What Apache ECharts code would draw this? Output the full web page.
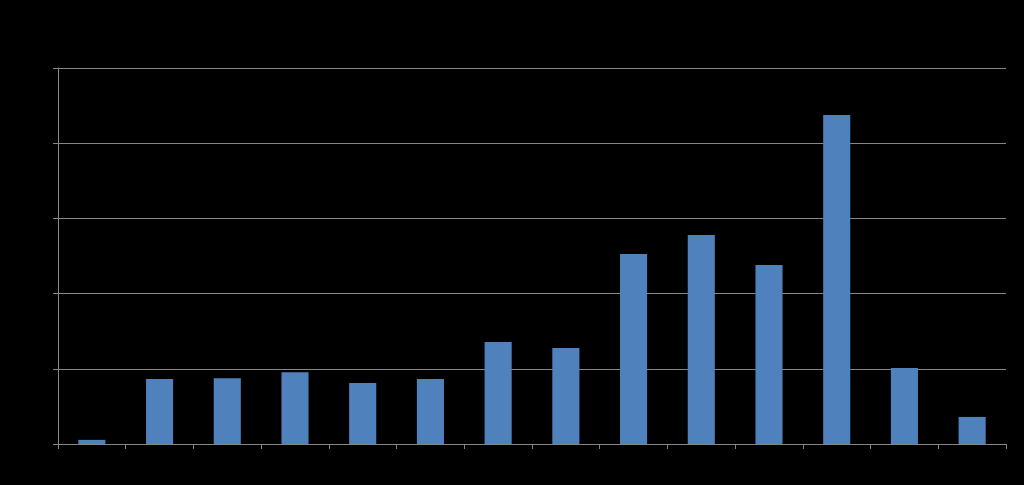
<!DOCTYPE html>
<html>
<head>
<meta charset="utf-8">
<script src="https://cdn.jsdelivr.net/npm/echarts@6/dist/echarts.min.js"></script>
<style>
html,body{margin:0;padding:0;background:#000;}
#c{width:1024px;height:485px;}
</style>
</head>
<body>
<div id="c"></div>
<script>
var categories = ['1','2','3','4','5','6','7','8','9','10','11','12','13','14'];
var values = [1.1, 17.3, 17.5, 19.1, 16.2, 17.3, 27.1, 25.5, 50.5, 55.6, 47.6, 87.5, 20.2, 7.2];
var yMin = 0, yMax = 100, yInterval = 20;

var chart = echarts.init(document.getElementById('c'), null, {renderer:'canvas'});
chart.setOption({
  backgroundColor: '#000000',
  animation: false,
  grid: {left: 58, right: 18, top: 68, bottom: 41, containLabel: false},
  xAxis: {
    type: 'category',
    data: categories,
    boundaryGap: true,
    axisLine: {show: true, lineStyle: {color: '#868686', width: 1}},
    axisTick: {show: true, alignWithLabel: false, length: 5, lineStyle: {color: '#868686'}},
    axisLabel: {show: false},
    splitLine: {show: false}
  },
  yAxis: {
    type: 'value',
    min: yMin, max: yMax, interval: yInterval,
    axisLine: {show: true, lineStyle: {color: '#868686', width: 1}},
    axisTick: {show: true, length: 5, lineStyle: {color: '#868686'}},
    axisLabel: {show: false},
    splitLine: {show: true, lineStyle: {color: '#868686', width: 1}}
  },
  series: [{
    type: 'bar',
    data: values,
    barWidth: '40%',
    itemStyle: {color: '#4f81bd'}
  }]
});
</script>
</body>
</html>
